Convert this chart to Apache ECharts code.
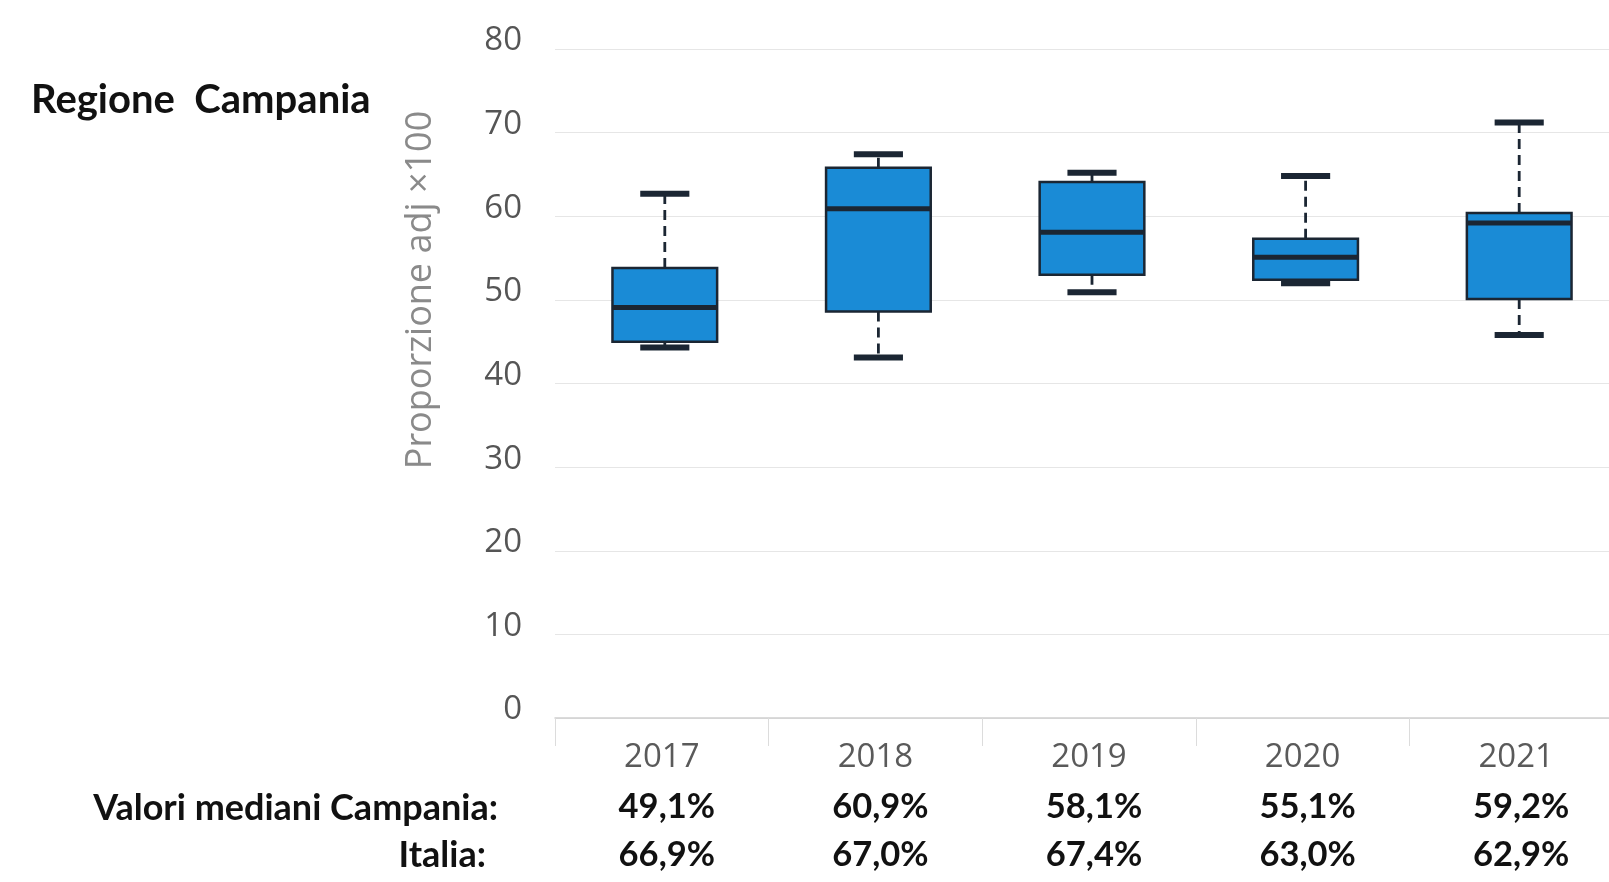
<!DOCTYPE html>
<html>
<head>
<meta charset="utf-8">
<script src="https://cdn.jsdelivr.net/npm/echarts@6/dist/echarts.min.js"></script>
<style>
html,body{margin:0;padding:0;background:#fff;overflow:hidden;width:1609px;height:882px;}
#chart{width:1623px;height:882px;}
</style>
</head>
<body>
<div id="chart"></div>
<script>
const years = ['2017', '2018', '2019', '2020', '2021'];
const whiskerLow = [44.3, 43.1, 50.9, 52.0, 45.8];
const q1 = [45.0, 48.6, 53.0, 52.4, 50.1];
const median = [49.1, 60.9, 58.1, 55.1, 59.2];
const q3 = [53.8, 65.8, 64.1, 57.3, 60.4];
const whiskerHigh = [62.7, 67.4, 65.2, 64.8, 71.2];
const medianCampania = ['49,1%', '60,9%', '58,1%', '55,1%', '59,2%'];
const medianItalia = ['66,9%', '67,0%', '67,4%', '63,0%', '62,9%'];
const yTicks = [0, 10, 20, 30, 40, 50, 60, 70, 80];

const boxData = years.map((y, i) => [i, whiskerLow[i], q1[i], median[i], q3[i], whiskerHigh[i]]);

const chart = echarts.init(document.getElementById('chart'));

const dark = '#1b2633';
const fill = '#1a8bd6';

function renderItem(params, api) {
  const idx = api.value(0);
  const band = api.size([1, 0])[0];
  const halfW = band * 0.245;
  const capHalf = band * 0.115;
  const pLow = api.coord([idx, api.value(1)]);
  const pQ1 = api.coord([idx, api.value(2)]);
  const pMed = api.coord([idx, api.value(3)]);
  const pQ3 = api.coord([idx, api.value(4)]);
  const pHigh = api.coord([idx, api.value(5)]);
  const cx = pMed[0] + 3;
  const dashStyle = {stroke: dark, lineWidth: 2.8, lineDash: [10, 6], fill: null};
  return {
    type: 'group',
    children: [
      {type: 'line', shape: {x1: cx, y1: pQ3[1], x2: cx, y2: pHigh[1]}, style: dashStyle},
      {type: 'line', shape: {x1: cx, y1: pQ1[1], x2: cx, y2: pLow[1]}, style: dashStyle},
      {type: 'rect', shape: {x: cx - capHalf, y: pHigh[1] - 3, width: capHalf * 2, height: 6}, style: {fill: dark}},
      {type: 'rect', shape: {x: cx - capHalf, y: pLow[1] - 3, width: capHalf * 2, height: 6}, style: {fill: dark}},
      {type: 'rect', shape: {x: cx - halfW, y: pQ3[1], width: halfW * 2, height: pQ1[1] - pQ3[1]},
        style: {fill: fill, stroke: dark, lineWidth: 2.5}},
      {type: 'line', shape: {x1: cx - halfW, y1: pMed[1], x2: cx + halfW, y2: pMed[1]},
        style: {stroke: dark, lineWidth: 5}}
    ]
  };
}

const option = {
  backgroundColor: '#ffffff',
  animation: false,
  grid: {left: 555, right: 0, top: 49, bottom: 164, containLabel: false},
  xAxis: {
    type: 'category',
    data: years,
    boundaryGap: true,
    axisLine: {show: true, lineStyle: {color: '#cfcfcf', width: 1.5}},
    axisTick: {show: true, length: 28, lineStyle: {color: '#dcdcdc', width: 1}},
    splitLine: {show: false},
    axisLabel: {
      margin: 15,
      interval: 0,
      formatter: function (v, i) {
        return '{y|' + v + '}\n{v|' + medianCampania[i] + '}\n{v|' + medianItalia[i] + '}';
      },
      rich: {
        y: {fontFamily: 'Open Sans', fontSize: 33, color: '#5a5a5a', lineHeight: 50},
        v: {fontFamily: 'Lato', fontWeight: 'bold', fontSize: 34.5, color: '#111111', lineHeight: 48, padding: [0, 0, 0, 10]}
      }
    }
  },
  yAxis: {
    type: 'value',
    min: 0,
    max: 80,
    interval: 10,
    axisLine: {show: false},
    axisTick: {show: false},
    splitLine: {show: true, lineStyle: {color: '#e6e6e6', width: 1}},
    axisLabel: {
      margin: 33,
      fontFamily: 'Open Sans',
      fontSize: 33,
      color: '#555555',
      lineHeight: 16,
      verticalAlign: 'bottom',
      formatter: function (v) { return yTicks.indexOf(v) >= 0 ? String(v) : ''; }
    }
  },
  graphic: [
    {type: 'text', x: 31, y: 100,
      style: {text: 'Regione  Campania', fontFamily: 'Lato', fontWeight: 'bold', fontSize: 40, fill: '#111111',
        verticalAlign: 'middle'}},
    {type: 'text', x: 421, y: 290, rotation: Math.PI / 2,
      style: {text: 'Proporzione adj ×100', fontFamily: 'Open Sans', fontSize: 36, fill: '#8a8a8a',
        align: 'center', verticalAlign: 'middle'}},
    {type: 'text', x: 498, y: 808,
      style: {text: 'Valori mediani Campania:', fontFamily: 'Lato', fontWeight: 'bold', fontSize: 36, fill: '#111111',
        align: 'right', verticalAlign: 'middle'}},
    {type: 'text', x: 486, y: 855,
      style: {text: 'Italia:', fontFamily: 'Lato', fontWeight: 'bold', fontSize: 36, fill: '#111111',
        align: 'right', verticalAlign: 'middle'}}
  ],
  series: [{
    type: 'custom',
    renderItem: renderItem,
    encode: {x: 0, y: [1, 2, 3, 4, 5]},
    data: boxData,
    clip: false
  }]
};
chart.setOption(option);
</script>
</body>
</html>
